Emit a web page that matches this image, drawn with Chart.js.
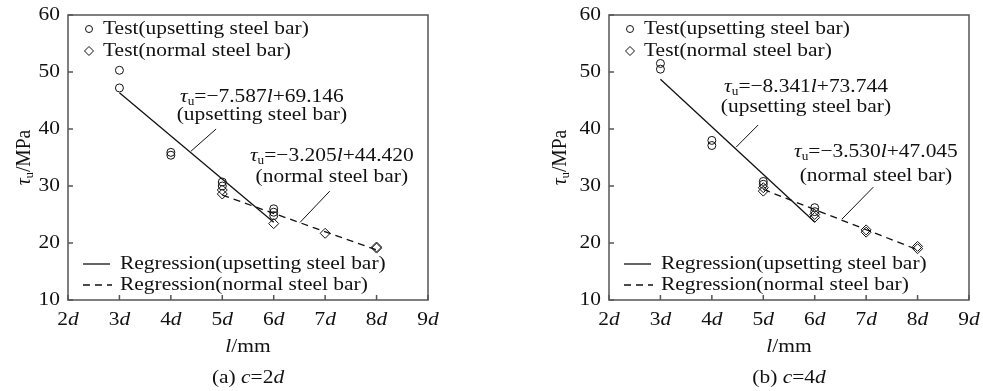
<!DOCTYPE html>
<html>
<head>
<meta charset="utf-8">
<script src="https://cdn.jsdelivr.net/npm/chart.js@4.4.1/dist/chart.umd.min.js"></script>
<style>
    html, body { margin: 0; padding: 0; background: #fff; }
    #wrap { position: relative; width: 983px; height: 391px; }
    canvas { position: absolute; top: 0; }
</style>
</head>
<body>
<div id="wrap">
    <canvas id="chartA" width="491" height="391" style="left:0"></canvas>
    <canvas id="chartB" width="492" height="391" style="left:491px"></canvas>
</div>
<script>
// axis ticks (l in multiples of d, tau_u in MPa)
const xTicks = [2, 3, 4, 5, 6, 7, 8, 9];
const yTicks = [10, 20, 30, 40, 50, 60];

// (a) c = 2d
const upsetX2 = [3, 3, 4, 4, 5, 5, 6, 6, 6];
const upsetY2 = [50.3, 47.2, 35.9, 35.4, 30.7, 30.0, 26.0, 25.4, 24.8];
const normalX2 = [5, 5, 6, 7, 8, 8];
const normalY2 = [29.3, 28.6, 23.4, 21.7, 19.3, 19.1];
const upsetRegX2 = [3, 6];
const upsetRegY2 = [46.38, 23.62];
const normalRegX2 = [5, 8];
const normalRegY2 = [28.40, 18.78];

// (b) c = 4d
const upsetX4 = [3, 3, 4, 4, 5, 5, 6, 6];
const upsetY4 = [51.5, 50.5, 38.0, 37.1, 30.8, 30.3, 26.2, 25.5];
const normalX4 = [5, 5, 6, 6, 7, 7, 8, 8];
const normalY4 = [29.7, 29.1, 25.0, 24.5, 22.3, 21.9, 19.4, 19.0];
const upsetRegX4 = [3, 6];
const upsetRegY4 = [48.72, 23.70];
const normalRegX4 = [5, 8];
const normalRegY4 = [29.40, 18.81];

const legendLabels = [
    'Test(upsetting steel bar)',
    'Test(normal steel bar)',
    'Regression(upsetting steel bar)',
    'Regression(normal steel bar)'
];

const INK = '#111';
const FRAME = '#555';
const FONT = '"Liberation Serif", "Times New Roman", serif';
const SIZE = 19.5;
const SX = 1.1; // the source figure is a bit wider than tall

function toPoints(xs, ys) {
    return xs.map((x, i) => ({ x: x, y: ys[i] }));
}

// *x* = italic, _x_ = subscript
function parseRich(s) {
    const runs = [];
    let it = false, sub = false, buf = '';
    for (const ch of s) {
        if (ch === '*' || ch === '_') {
            if (buf) runs.push({ t: buf, it: it, sub: sub });
            buf = '';
            if (ch === '*') it = !it; else sub = !sub;
        } else {
            buf += ch;
        }
    }
    if (buf) runs.push({ t: buf, it: it, sub: sub });
    return runs;
}

function runFont(r) {
    const size = r.sub ? SIZE * 0.62 : SIZE;
    return (r.it ? 'italic ' : '') + size + 'px ' + FONT;
}

function drawRich(ctx, text, x, y, align, rotated) {
    const runs = parseRich(text);
    ctx.save();
    ctx.fillStyle = INK;
    ctx.textBaseline = 'middle';
    ctx.textAlign = 'left';
    let w = 0;
    runs.forEach(r => { ctx.font = runFont(r); r.w = ctx.measureText(r.t).width; w += r.w; });
    ctx.translate(x, y);
    if (rotated) {
        ctx.rotate(-Math.PI / 2);
        ctx.scale(1, SX);
    } else {
        ctx.scale(SX, 1);
    }
    let cx = align === 'center' ? -w / 2 : align === 'right' ? -w : 0;
    runs.forEach(r => {
        ctx.font = runFont(r);
        ctx.fillText(r.t, cx, r.sub ? 5 : 0);
        cx += r.w;
    });
    ctx.restore();
}

function drawMarker(ctx, style, x, y, r) {
    ctx.beginPath();
    if (style === 'circle') {
        ctx.arc(x, y, r, 0, Math.PI * 2);
    } else {
        ctx.moveTo(x, y - r);
        ctx.lineTo(x + r, y);
        ctx.lineTo(x, y + r);
        ctx.lineTo(x - r, y);
        ctx.closePath();
    }
    ctx.stroke();
}

const panelPlugin = {
    id: 'panelText',
    afterDraw(chart, args, opts) {
        const ctx = chart.ctx;
        const area = chart.chartArea;
        const xs = chart.scales.x;
        const ys = chart.scales.y;

        ctx.save();
        // frame
        ctx.strokeStyle = FRAME;
        ctx.lineWidth = 1.5;
        ctx.strokeRect(area.left, area.top, area.right - area.left, area.bottom - area.top);

        // inward tick marks
        ctx.beginPath();
        xTicks.forEach(v => {
            const px = xs.getPixelForValue(v);
            ctx.moveTo(px, area.bottom);
            ctx.lineTo(px, area.bottom - 5);
        });
        yTicks.forEach(v => {
            const py = ys.getPixelForValue(v);
            ctx.moveTo(area.left, py);
            ctx.lineTo(area.left + 5, py);
        });
        ctx.stroke();
        ctx.restore();

        // tick labels
        xTicks.forEach(v => drawRich(ctx, v + '*d*', xs.getPixelForValue(v), area.bottom + 20, 'center'));
        yTicks.forEach(v => drawRich(ctx, String(v), area.left - 8, ys.getPixelForValue(v), 'right'));

        // axis titles and caption
        const midX = (area.left + area.right) / 2;
        drawRich(ctx, '*l*/mm', midX, area.bottom + 47, 'center');
        drawRich(ctx, opts.caption, midX, area.bottom + 78, 'center');
        drawRich(ctx, '*τ*_u_/MPa', opts.yTitleX, (area.top + area.bottom) / 2, 'center', true);

        // legend
        ctx.save();
        ctx.strokeStyle = INK;
        ctx.lineWidth = 1;
        drawMarker(ctx, 'circle', area.left + 21, area.top + 14, 3.5);
        drawMarker(ctx, 'diamond', area.left + 21, area.top + 36, 4.5);
        ctx.lineWidth = 1.3;
        ctx.beginPath();
        ctx.moveTo(area.left + 15, area.top + 249);
        ctx.lineTo(area.left + 42, area.top + 249);
        ctx.stroke();
        ctx.setLineDash([7, 5]);
        ctx.beginPath();
        ctx.moveTo(area.left + 15, area.top + 270);
        ctx.lineTo(area.left + 44, area.top + 270);
        ctx.stroke();
        ctx.restore();
        drawRich(ctx, legendLabels[0], area.left + 35, area.top + 14, 'left');
        drawRich(ctx, legendLabels[1], area.left + 35, area.top + 36, 'left');
        drawRich(ctx, legendLabels[2], area.left + 52, area.top + 249, 'left');
        drawRich(ctx, legendLabels[3], area.left + 52, area.top + 270, 'left');

        // equation notes with leader lines (data coordinates)
        opts.notes.forEach(n => {
            ctx.save();
            ctx.strokeStyle = INK;
            ctx.lineWidth = 1;
            ctx.beginPath();
            ctx.moveTo(xs.getPixelForValue(n.lead[0]), ys.getPixelForValue(n.lead[1]));
            ctx.lineTo(xs.getPixelForValue(n.lead[2]), ys.getPixelForValue(n.lead[3]));
            ctx.stroke();
            ctx.restore();
            n.lines.forEach((t, i) => {
                drawRich(ctx, t, xs.getPixelForValue(n.x), ys.getPixelForValue(n.y[i]), 'center');
            });
        });
    }
};

function makePanel(id, cfg) {
    return new Chart(document.getElementById(id), {
        type: 'scatter',
        data: {
            datasets: [
                {
                    label: legendLabels[0],
                    data: toPoints(cfg.upsetX, cfg.upsetY),
                    pointStyle: 'circle',
                    pointRadius: 4,
                    pointBorderColor: INK,
                    pointBackgroundColor: 'rgba(0,0,0,0)',
                    pointBorderWidth: 1
                },
                {
                    label: legendLabels[1],
                    data: toPoints(cfg.normalX, cfg.normalY),
                    pointStyle: 'rectRot',
                    pointRadius: 5,
                    pointBorderColor: INK,
                    pointBackgroundColor: 'rgba(0,0,0,0)',
                    pointBorderWidth: 1
                },
                {
                    label: legendLabels[2],
                    data: toPoints(cfg.upsetRegX, cfg.upsetRegY),
                    showLine: true,
                    pointRadius: 0,
                    borderColor: INK,
                    borderWidth: 1.3
                },
                {
                    label: legendLabels[3],
                    data: toPoints(cfg.normalRegX, cfg.normalRegY),
                    showLine: true,
                    pointRadius: 0,
                    borderColor: INK,
                    borderWidth: 1.3,
                    borderDash: [7, 5]
                }
            ]
        },
        options: {
            responsive: false,
            animation: false,
            devicePixelRatio: 1,
            layout: { padding: { left: 0, top: 15, right: cfg.padRight, bottom: 0 } },
            plugins: {
                legend: { display: false },
                tooltip: { enabled: false },
                panelText: { caption: cfg.caption, yTitleX: cfg.yTitleX, notes: cfg.notes }
            },
            scales: {
                x: {
                    type: 'linear', min: 2, max: 9,
                    ticks: { display: false },
                    grid: { display: false },
                    border: { display: false },
                    afterFit(s) { s.height = 91; }
                },
                y: {
                    min: 10, max: 60,
                    ticks: { display: false },
                    grid: { display: false },
                    border: { display: false },
                    afterFit(s) { s.width = cfg.axisLeft; }
                }
            }
        },
        plugins: [panelPlugin]
    });
}

makePanel('chartA', {
    upsetX: upsetX2, upsetY: upsetY2, normalX: normalX2, normalY: normalY2,
    upsetRegX: upsetRegX2, upsetRegY: upsetRegY2, normalRegX: normalRegX2, normalRegY: normalRegY2,
    axisLeft: 68, padRight: 63, yTitleX: 24,
    caption: '(a) *c*=2*d*',
    notes: [
        { lines: ['*τ*_u_=−7.587*l*+69.146', '(upsetting steel bar)'], x: 5.77, y: [45.6, 42.4], lead: [4.39, 36.1, 4.88, 40.0] },
        { lines: ['*τ*_u_=−3.205*l*+44.420', '(normal steel bar)'], x: 7.13, y: [35.3, 31.6], lead: [6.51, 23.6, 7.09, 29.1] }
    ]
});

makePanel('chartB', {
    upsetX: upsetX4, upsetY: upsetY4, normalX: normalX4, normalY: normalY4,
    upsetRegX: upsetRegX4, upsetRegY: upsetRegY4, normalRegX: normalRegX4, normalRegY: normalRegY4,
    axisLeft: 118, padRight: 14, yTitleX: 69,
    caption: '(b) *c*=4*d*',
    notes: [
        { lines: ['*τ*_u_=−8.341*l*+73.744', '(upsetting steel bar)'], x: 5.83, y: [47.4, 43.9], lead: [4.47, 36.8, 4.90, 40.7] },
        { lines: ['*τ*_u_=−3.530*l*+47.045', '(normal steel bar)'], x: 7.19, y: [36.0, 31.8], lead: [6.53, 24.2, 7.14, 29.8] }
    ]
});
</script>
</body>
</html>
